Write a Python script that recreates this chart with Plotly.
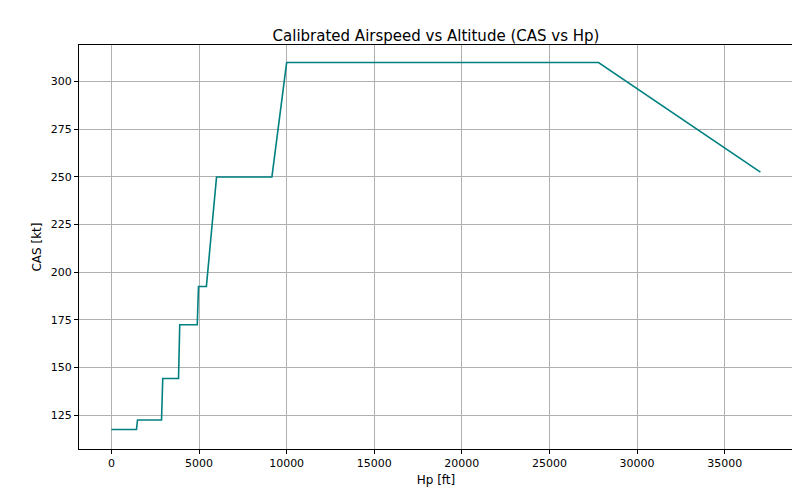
import plotly.graph_objects as go

hp = [0, 1430, 1490, 2860, 2930, 3830, 3900, 4900, 4970, 5420, 6000, 9160, 10000, 27800, 37040]
cas = [117.5, 117.5, 122.5, 122.5, 144.3, 144.3, 172.5, 172.5, 192.5, 192.5, 250, 250, 310, 310, 252.5]

fig = go.Figure(go.Scatter(x=hp, y=cas, mode="lines", line=dict(color="#008080", width=1.6)))
ax = dict(showgrid=True, gridcolor="#b0b0b0", gridwidth=1, showline=True, linecolor="black",
          mirror=True, ticks="outside", ticklen=4, tickcolor="black", zeroline=False, automargin=False,
          tickfont=dict(size=11, color="black"))
fig.update_layout(
    width=800, height=500, plot_bgcolor="white", paper_bgcolor="white",
    font=dict(family="DejaVu Sans", color="black"),
    title=dict(text="Calibrated Airspeed vs Altitude (CAS vs Hp)", x=0.535, xanchor="center", y=0.955, font=dict(size=15)),
    margin=dict(l=71, r=15, t=37, b=59), showlegend=False,
    xaxis=dict(ax, title=dict(text="Hp [ft]", font=dict(size=12), standoff=6), range=[-1850, 38900],
               tickvals=[0,5000,10000,15000,20000,25000,30000,35000], tickformat="d"),
    yaxis=dict(ax, title=dict(text="CAS [kt]", font=dict(size=12), standoff=6), range=[107.3, 319.2],
               tickvals=[125,150,175,200,225,250,275,300]),
)
fig.write_html("out.html")
